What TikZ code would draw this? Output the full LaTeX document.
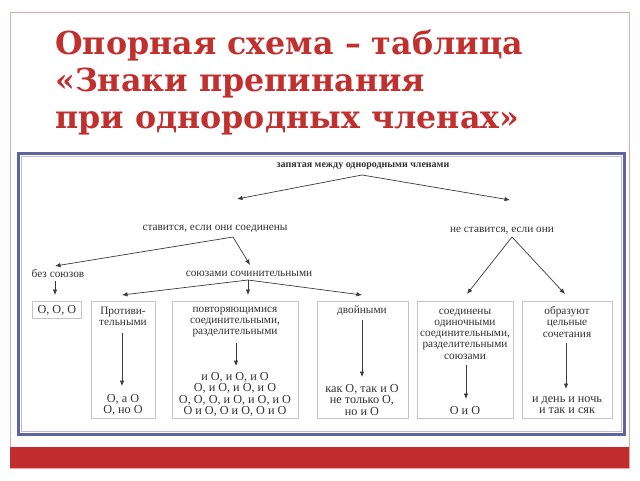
\documentclass[tikz,border=0pt]{standalone}
\usepackage{fontspec}
\setmainfont{Liberation Serif}
\newfontfamily\titlefont{DejaVu Serif}
\usetikzlibrary{arrows.meta}
\definecolor{titlered}{HTML}{C0302F}
\definecolor{bandred}{HTML}{C12D2F}
\definecolor{framepink}{HTML}{E9A7A4}
\definecolor{frameblue}{HTML}{5F64A0}
\definecolor{framelight}{HTML}{B9BCDC}
\definecolor{boxgray}{HTML}{C4C4C4}
\definecolor{schemetext}{HTML}{303030}
\definecolor{arrowgray}{HTML}{3A3A3A}
\begin{document}
\begin{tikzpicture}[x=1pt,y=-1pt,
  ttl/.style={font=\titlefont\bfseries\fontsize{31.7}{39}\selectfont, text=titlered, inner sep=0pt, anchor=base west},
  txt/.style={font=\fontsize{11.3}{11.3}\selectfont, text=schemetext, inner sep=0pt, align=center},
  ftxt/.style={font=\fontsize{12.2}{11.3}\selectfont, text=schemetext, inner sep=0pt, align=center},
  box/.style={draw=boxgray, line width=0.8pt, anchor=north west, inner sep=0pt},
  arr/.style={-{Latex[length=5.5pt,width=4.5pt]}, line width=0.7pt, draw=arrowgray}]
\useasboundingbox (0,0) rectangle (640,480);
% slide frame
\draw[framepink, line width=0.8pt] (10,12) rectangle (629,468);
\fill[bandred] (10,447) rectangle (629,468);
% title
\node[ttl] (title1) at (55,54) {Опорная схема – таблица};
\node[ttl] (title2) at (55,91) {«Знаки препинания};
\node[ttl] (title3) at (55,128) {при однородных членах»};
% picture frame
\draw[frameblue, line width=2.5pt] (18.5,153.5) rectangle (624.5,434.5);
\draw[framelight, line width=1.2pt] (21.5,156.5) rectangle (621.5,431.5);
% scheme text
\node[txt, font=\bfseries\fontsize{10}{11.3}\selectfont] (T) at (363,166) {запятая между однородными членами};
\node[txt] (S1) at (215,229) {ставится, если они соединены};
\node[txt] (S2) at (502,231) {не ставится, если они};
\node[txt] (B1) at (58,274) {без союзов};
\node[txt] (B2) at (249,274) {союзами сочинительными};
\coordinate (T0) at (362,175);
\coordinate (S1in) at (237,199);
\coordinate (S2in) at (510,200);
\coordinate (S1o) at (233,237);
\coordinate (B1in) at (55,266);
\coordinate (B2in) at (250,265);
\coordinate (S2o) at (512,237);
\coordinate (B1o) at (55,281);
\coordinate (B2o) at (248,280);
% boxes
\node[box, minimum width=49pt, minimum height=17pt] (bx1) at (32,301) {};
\node[box, minimum width=64pt, minimum height=117pt] (bx2) at (91,301) {};
\node[box, minimum width=126pt, minimum height=117pt] (bx3) at (172,301) {};
\node[box, minimum width=91pt, minimum height=117pt] (bx4) at (317,301) {};
\node[box, minimum width=96pt, minimum height=117pt] (bx5) at (417,301) {};
\node[box, minimum width=90pt, minimum height=117pt] (bx6) at (522,301) {};
% arrow entry points above boxes
\coordinate (e1) at (55,295);
\coordinate (e2) at (122,295);
\coordinate (e3) at (248,295);
\coordinate (e4) at (362,295);
\coordinate (e5) at (467,294);
\coordinate (e6) at (565,294);
% box texts
\node[ftxt] (p1) at (bx1.center) {О, О, О};
\node[txt] (p2t) at (123,316) {Противи-\\тельными};
\node[ftxt] (p2b) at (123,405) {О, а О\\О, но О};
\node[txt] (p3t) at (235,322) {повторяющимися\\соединительными,\\разделительными};
\node[ftxt] (p3b) at (235,394.5) {и О, и О, и О\\О, и О, и О, и О\\О, О, О, и О, и О, и О\\О и О, О и О, О и О};
\node[txt] (p4t) at (362,311) {двойными};
\node[ftxt] (p4b) at (362,400) {как О, так и О\\не только О,\\но и О};
\node[txt] (p5t) at (465,334) {соединены\\одиночными\\соединительными,\\разделительными\\союзами};
\node[ftxt] (p5b) at (465,411) {О и О};
\node[txt] (p6t) at (567,322) {образуют\\цельные\\сочетания};
\node[ftxt] (p6b) at (567,405) {и день и ночь\\и так и сяк};
% connectors
\draw[arr] (T0) -- (S1in);
\draw[arr] (T0) -- (S2in);
\draw[arr] (S1o) -- (B1in);
\draw[arr] (S1o) -- (B2in);
\draw[arr] (S2o) -- (e5);
\draw[arr] (S2o) -- (e6);
\draw[arr] (B1o) -- (e1);
\draw[arr] (B2o) -- (e2);
\draw[arr] (B2o) -- (e3);
\draw[arr] (B2o) -- (e4);
\coordinate (a2s) at (122,333); \coordinate (a2e) at (122,386);
\coordinate (a3s) at (236,343); \coordinate (a3e) at (236,366);
\coordinate (a4s) at (362,320); \coordinate (a4e) at (362,377);
\coordinate (a5s) at (466,365); \coordinate (a5e) at (466,399);
\coordinate (a6s) at (566,343); \coordinate (a6e) at (566,389);
\draw[arr] (a2s) -- (a2e);
\draw[arr] (a3s) -- (a3e);
\draw[arr] (a4s) -- (a4e);
\draw[arr] (a5s) -- (a5e);
\draw[arr] (a6s) -- (a6e);
\end{tikzpicture}
\end{document}
